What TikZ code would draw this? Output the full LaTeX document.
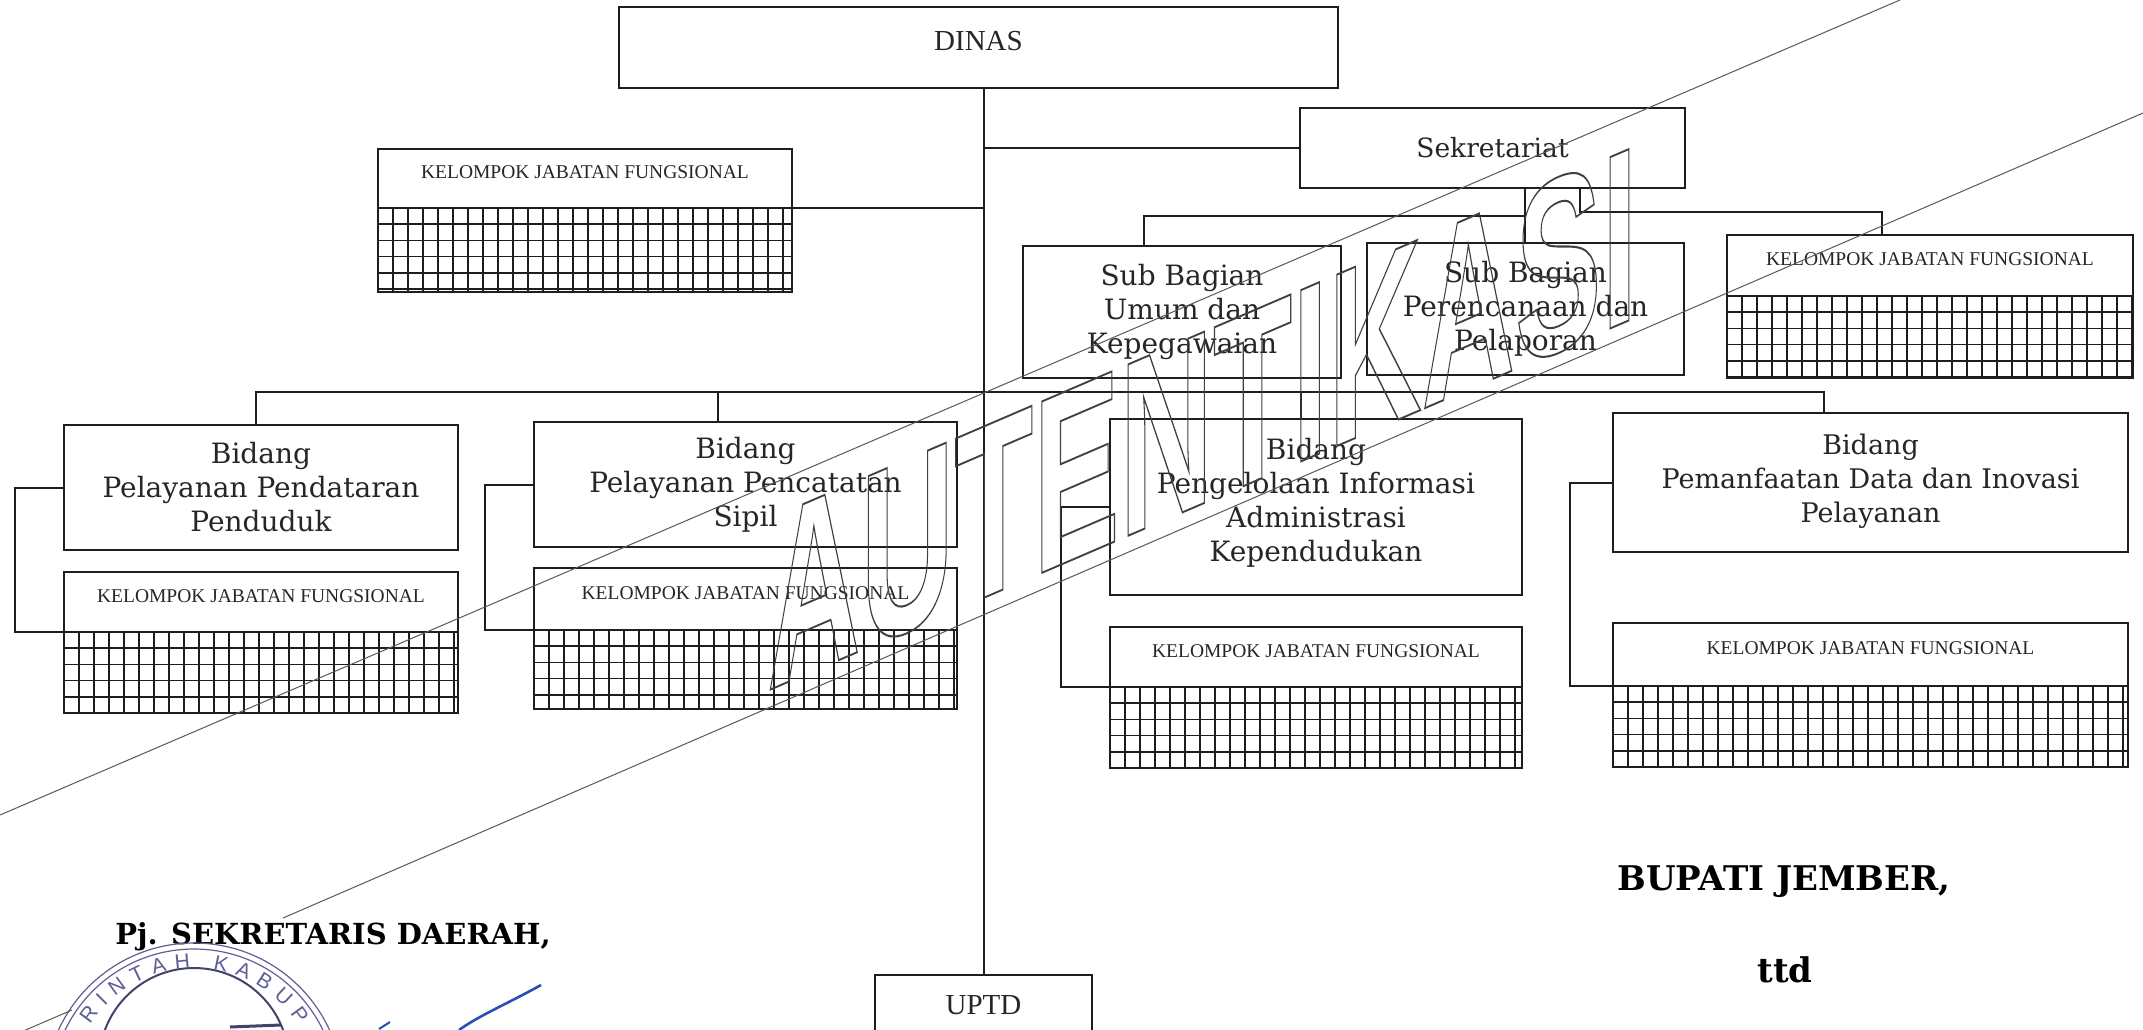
\documentclass[tikz,border=0pt]{standalone}
\usepackage{fontspec}
\usepackage{xcolor}
\setmainfont{Liberation Serif}
\newfontfamily\bookfont{DejaVu Serif}
\newfontfamily\markfont{Liberation Sans}
\usetikzlibrary{positioning,calc,decorations.text}
\definecolor{inkline}{RGB}{30,30,30}
\definecolor{sealblue}{RGB}{95,95,150}
\definecolor{signblue}{RGB}{40,80,180}
\newcommand{\outlinetext}[1]{\special{pdf:code q 1 Tr 2 w 0.25 G}#1\special{pdf:code Q}}

\begin{document}
\begin{tikzpicture}[
  x=1pt, y=1pt,
  link/.style={line width=2pt, color=inkline},
  orgbox/.style={draw=inkline, line width=2pt, inner sep=0pt, outer sep=0pt, align=center,
    text=black!85, font=\bookfont\fontsize{28}{34}\selectfont},
  headbox/.style={orgbox, font=\fontsize{29}{34}\selectfont},
  jabbox/.style={orgbox, font=\fontsize{19.5}{22}\selectfont, text height=14pt, text depth=14pt},
  gridline/.style={line width=1.6pt, color=inkline},
  signtext/.style={inner sep=0pt, font=\bookfont\bfseries\fontsize{34}{36}\selectfont},
  markline/.style={line width=1pt, color=black!65},
  sealline/.style={line width=1.2pt, color=sealblue},
]
\path[use as bounding box, clip] (0,0) rectangle (2143,-1029);
\fill[white] (0,0) rectangle (2143,-1029);

% --- top of the chart
\node[headbox, minimum width=719pt, minimum height=81pt, text height=20pt, text depth=14pt] (dinas) at (978.5,-47) {DINAS};
\node[headbox, minimum width=217pt, minimum height=60pt] (uptd) at (983.5,-1005) {UPTD};
\node[orgbox, minimum width=385pt, minimum height=80pt, font=\bookfont\fontsize{26.5}{34}\selectfont] (sekre) at (1492.5,-148) {Sekretariat};
\node[orgbox, minimum width=318pt, minimum height=132pt] (subumum) at (1182,-312) {Sub Bagian\\Umum dan\\Kepegawaian};
\node[orgbox, minimum width=317pt, minimum height=132pt] (subrencana) at (1525.5,-309) {Sub Bagian\\Perencanaan dan\\Pelaporan};

% --- the four Bidang boxes
\node[orgbox, minimum width=394pt, minimum height=125pt] (bidA) at (261,-487.5) {Bidang\\Pelayanan Pendataran\\Penduduk};
\node[orgbox, minimum width=423pt, minimum height=125pt] (bidB) at (745.5,-484.5) {Bidang\\Pelayanan Pencatatan\\Sipil};
\node[orgbox, minimum width=412pt, minimum height=176pt, text depth=14pt] (bidC) at (1316,-507) {Bidang\\Pengelolaan Informasi\\Administrasi\\Kependudukan};
\node[orgbox, minimum width=515pt, minimum height=139pt, text depth=8pt, font=\bookfont\fontsize{27}{34}\selectfont] (bidD) at (1870.5,-482.5) {Bidang\\Pemanfaatan Data dan Inovasi\\Pelayanan};

% --- Kelompok boxes, each with its grid under the heading
\foreach \kname/\xa/\ya/\yd/\xb/\yb in {
  kjfT/378/149/208/792/292,
  kjfR/1727/235/296/2133/378,
  kjfA/64/572/632/458/713,
  kjfB/534/568/630/957/709,
  kjfC/1110/627/687/1522/768,
  kjfD/1613/623/686/2128/767}{
  \node[jabbox, minimum width=(\xb-\xa)*1pt, minimum height=(\yd-\ya)*1pt] (\kname)
    at ({(\xa+\xb)/2},{-(\ya+\yd)/2}) {KELOMPOK JABATAN FUNGSIONAL};
  \draw[gridline, shift={(\xa,-\yd)}, xstep=15pt, ystep=16.2pt] (0,0) grid ({\xb-\xa},{\yd-\yb});
  \draw[gridline] (\xa,-\yd) rectangle (\xb,-\yb);
}

% --- trunk and branches
\draw[link] (uptd.north |- dinas.south) -- (uptd.north);
\draw[link] (sekre.west) -- (sekre.west -| uptd.north);
\draw[link] (kjfT.south east) -- (kjfT.south east -| uptd.north);

% stems under Sekretariat
\coordinate (stemA) at (1525,-188);
\coordinate (stemB) at (1580,-188);
\coordinate (stemU) at (1144,-246);
\coordinate (stemK) at (1882,-235);
\draw[link] (stemA) -- (stemA |- subrencana.north);
\draw[link] (stemU) |- ($(stemA)+(0,-28)$);
\draw[link] (stemB) -- ++(0,-24) -| (stemK);

% bus over the Bidang boxes
\coordinate (busL) at (256,-392);
\coordinate (busR) at (1824,-392);
\draw[link] (busL |- bidA.north) -- (busL) -- (busR) -- (busR |- bidD.north);
\draw[link] (718,-392) -- (718,-422);
\draw[link] (1301,-392) -- (1301,-419);

% Bidang to its Kelompok
\draw[link] (bidA.west) -- ++(-49,0) |- (kjfA.south west);
\draw[link] (bidB.west) -- ++(-49,0) |- (kjfB.south west);
\draw[link] (bidC.west) -- ++(-49,0) |- (kjfC.south west);
\draw[link] (bidD.west) -- ++(-43,0) |- (kjfD.south west);

% --- signatures
\node[signtext] (bupati) at (1784,-882) {BUPATI JEMBER,};
\node[signtext] (ttd) at (1785,-970) {ttd};
\node[signtext, font=\bookfont\bfseries\fontsize{29}{32}\selectfont] (sekda) at (333,-937) {Pj. SEKRETARIS DAERAH,};

% seal, cut by the page edge
\draw[sealline] (194,-1092) circle (149);
\draw[sealline] (194,-1092) circle (143);
\draw[line width=2pt, color=sealblue!70!black] (194,-1063) circle (95);
\draw[line width=3pt, color=sealblue!70!black] (230,-1027) -- (281,-1025);
\path[decorate, decoration={text along path, text align=fit to path,
    text={|\markfont\fontsize{21}{21}\selectfont\color{sealblue}|RINTAH KABUP}}]
  ($(194,-1092)+(147:124)$) arc[start angle=147, end angle=33, radius=124];
\draw[line width=2.6pt, color=signblue] (541,-985) .. controls (505,-1005) and (480,-1015) .. (459,-1030);
\draw[line width=2pt, color=signblue] (379,-1029) -- (390,-1022);

% --- stamp across the sheet
\draw[markline] (1900,0) -- (0,-815);
\draw[markline] (2143,-113) -- (283,-918);
\draw[markline] (72,-1010) -- (0,-1041);
\node[inner sep=0pt, anchor=base west, transform shape, cm={.52,.2236,0,1,(0,0)},
    font=\markfont\bfseries\fontsize{249}{249}\selectfont] (stamp) at (767,-691) {\outlinetext{AUTENTIKASI}};
\end{tikzpicture}
\end{document}
